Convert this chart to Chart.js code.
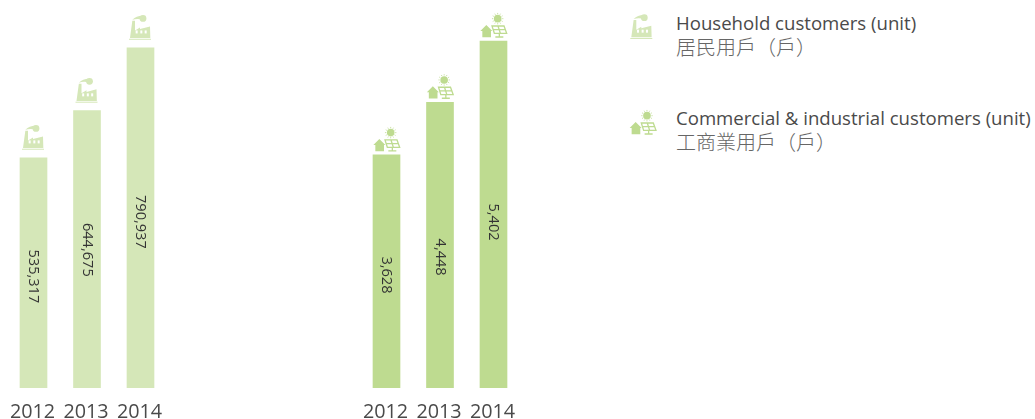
<!DOCTYPE html>
<html><head><meta charset="utf-8">
<script src="https://cdn.jsdelivr.net/npm/chart.js@4"></script>
<style>
html,body{margin:0;padding:0;background:#fff;width:1035px;height:419px;overflow:hidden}
canvas{position:absolute;top:0}
.lg{position:absolute;left:676px;color:#4a4a4a;font:400 18.6px "Open Sans",sans-serif;white-space:nowrap;line-height:24px}
.lg span{display:block;color:#666;font:300 20px/23px "Noto Sans CJK TC",sans-serif;}
</style></head><body>
<canvas id="c1" width="180" height="419" style="left:0"></canvas>
<canvas id="c2" width="180" height="419" style="left:350px"></canvas>
<canvas id="ic" width="40" height="150" style="left:620px"></canvas>
<div class="lg" style="top:11px">Household customers (unit)<span>居民用戶（戶）</span></div>
<div class="lg" style="top:106px">Commercial &amp; industrial customers (unit)<span>工商業用戶（戶）</span></div>
<script>
const years = ['2012','2013','2014'];
const household = [535317,644675,790937];
const commercial = [3628,4448,5402];
const householdColor = '#d5e7b8';
const commercialColor = '#bedb90';
const householdLabelShift = [3.5,0.5,4];
const commercialLabelShift = [3.5,12,7.5];

function factory(ctx,cx,top,color){
  const X=z=>cx+(z-421.5)/3, Y=z=>top+(z-144)/3;
  ctx.save();ctx.fillStyle=color;
  ctx.fillRect(X(387),Y(117),22,1);
  ctx.beginPath();
  ctx.moveTo(X(390),Y(115));ctx.lineTo(X(397),Y(63));ctx.lineTo(X(405),Y(63));ctx.lineTo(X(405),Y(92));
  ctx.lineTo(X(420),Y(83));ctx.lineTo(X(420),Y(88));ctx.lineTo(X(450),Y(80));ctx.lineTo(X(451),Y(115));
  ctx.closePath();ctx.fill();
  ctx.beginPath();ctx.arc(X(429),Y(56),3.4,0,Math.PI*2);ctx.fill();
  ctx.beginPath();ctx.moveTo(X(397),Y(60));ctx.quadraticCurveTo(X(410),Y(47),X(430),Y(48));
  ctx.lineTo(X(430),Y(60));ctx.quadraticCurveTo(X(412),Y(55),X(397),Y(60));ctx.fill();
  ctx.fillStyle='#fff';
  [407,421,434].forEach(x=>ctx.fillRect(X(x),Y(92),2,3));
  ctx.restore();
}
function solar(ctx,cx,top,color){
  const X=z=>cx+(z-400.5)/3, Y=z=>top+(z-123)/3;
  ctx.save();ctx.fillStyle=color;ctx.strokeStyle=color;
  ctx.beginPath();
  ctx.moveTo(X(379),Y(75));ctx.lineTo(X(397),Y(93));ctx.lineTo(X(393),Y(93));ctx.lineTo(X(393),Y(112));
  ctx.lineTo(X(367),Y(112));ctx.lineTo(X(367),Y(93));ctx.lineTo(X(361),Y(93));ctx.closePath();ctx.fill();
  ctx.lineWidth=1.3;
  ctx.beginPath();
  ctx.moveTo(X(396),Y(78));ctx.lineTo(X(432),Y(78));ctx.lineTo(X(440),Y(100));ctx.lineTo(X(403),Y(100));ctx.closePath();
  ctx.moveTo(X(400),Y(89));ctx.lineTo(X(436),Y(89));
  ctx.moveTo(X(414),Y(78));ctx.lineTo(X(421),Y(100));
  ctx.moveTo(X(418),Y(100));ctx.lineTo(X(418),Y(110));
  ctx.moveTo(X(406),Y(111));ctx.lineTo(X(430),Y(111));
  ctx.stroke();
  const sx=X(413),sy=Y(56);
  ctx.beginPath();ctx.arc(sx,sy,3.8,0,Math.PI*2);ctx.fill();
  ctx.lineWidth=.8;ctx.beginPath();
  for(let i=0;i<12;i++){const a=i*Math.PI/6;ctx.moveTo(sx+Math.cos(a)*4.5,sy+Math.sin(a)*4.5);ctx.lineTo(sx+Math.cos(a)*5.7,sy+Math.sin(a)*5.7);}
  ctx.stroke();ctx.restore();
}
const decorate = (icon,color,shift)=>({
  id:'decorate',
  afterDatasetsDraw(chart){
    const ctx=chart.ctx, ds=chart.data.datasets[0];
    chart.getDatasetMeta(0).data.forEach((bar,i)=>{
      icon(ctx,bar.x,bar.y,color);
      ctx.save();
      ctx.translate(bar.x,(bar.y+bar.base)/2+shift[i]);
      ctx.rotate(Math.PI/2);
      ctx.fillStyle='#333';
      ctx.font='400 14.6px "Open Sans",sans-serif';
      ctx.textAlign='center';ctx.textBaseline='middle';
      ctx.fillText(ds.data[i].toLocaleString('en-US'),0,0);
      ctx.restore();
    });
  }
});
function make(id,values,color,yMax,padLeft,icon,shift){
  return new Chart(document.getElementById(id),{
    type:'bar',
    data:{labels:years,datasets:[{data:values,backgroundColor:color,barThickness:27,borderWidth:0}]},
    options:{
      responsive:false,animation:false,
      layout:{padding:{left:padLeft,right:180-padLeft-160.5,top:0,bottom:0}},
      plugins:{legend:{display:false},tooltip:{enabled:false}},
      scales:{
        y:{display:false,min:0,max:yMax},
        x:{
          afterFit(s){s.height=31;},
          grid:{display:false},border:{display:false},
          ticks:{padding:4,labelOffset:-1,color:'#4a4a4a',maxRotation:0,autoSkip:false,font:{family:'"Open Sans",sans-serif',size:19.8,weight:400}}
        }
      }
    },
    plugins:[decorate(icon,color,shift)]
  });
}
make('c1',household,householdColor,902000,6.75,factory,householdLabelShift);
make('c2',commercial,commercialColor,6040,9.75,solar,commercialLabelShift);
const ic=document.getElementById('ic').getContext('2d');
factory(ic,21.8,47,householdColor);
solar(ic,22.8,138,commercialColor);
</script>
</body></html>
